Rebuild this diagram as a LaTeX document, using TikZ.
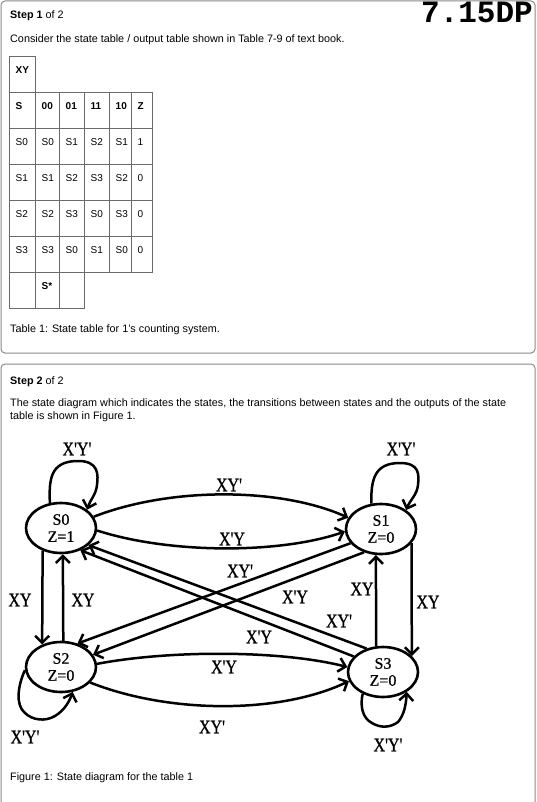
\documentclass[tikz,border=0pt]{standalone}
\usepackage{fontspec}
\usepackage{graphicx}
\setmainfont{Liberation Sans}
\newfontfamily\serif{Liberation Serif}[Ligatures=TeXOff,FakeBold=0.8]
\newfontfamily\monob{Liberation Mono}
\usetikzlibrary{shapes.geometric,arrows.meta,calc}
\definecolor{boxgray}{HTML}{8A8A8A}
\definecolor{cellgray}{HTML}{6A6A6A}
\newcommand\lb[1]{\scalebox{1}[1.2]{#1}}
\begin{document}
\begin{tikzpicture}[x=1pt,y=-1pt,
  txt/.style={anchor=base west,inner sep=0,font=\fontsize{10.8}{13}\selectfont},
  ctxt/.style={anchor=base west,inner sep=0,font=\fontsize{10}{12}\selectfont},
  state/.style={draw,ellipse,line width=2.6pt,minimum width=70pt,minimum height=50pt,inner sep=0,align=center,font=\serif\fontsize{16}{17}\selectfont},
  edge/.style={line width=2.5pt,-{Straight Barb[length=7pt,width=14pt]}},
  lbl/.style={inner sep=0,font=\serif\fontsize{16}{16}\selectfont},
  box/.style={draw=boxgray,line width=1pt,rounded corners=4pt},
  cell/.style={draw=cellgray,line width=0.8pt}
]
\useasboundingbox (0,0) rectangle (536,802);
\clip (0,0) rectangle (536,802);
\fill[white] (0,0) rectangle (536,802);

% boxes
\draw[box] (1,1) rectangle (535,353);
\draw[box] (1,364) rectangle (535,830);

% header texts
\node[txt] (st1) at (10,19) {\textbf{Step 1} of 2};
\node[anchor=base east,inner sep=0,text height=18pt,text depth=0pt,font=\monob\bfseries\fontsize{31}{31}\selectfont] (title) at (533,22.5) {7.15DP};
\node[txt] (cons) at (10,43) {Consider the state table / output table shown in Table 7-9 of text book.};

% table
\draw[cell] (9,56) rectangle (35,92);
\node[ctxt] (tXY) at (15.5,73.5) {\textbf{XY}};
\foreach \r in {0,...,4}{
  \foreach \xa/\xb in {9/35,35/59,59/84,84/109,109/131,131/152}{
    \draw[cell] (\xa,92+36*\r) rectangle (\xb,128+36*\r);
  }
}
\foreach \xa/\xb in {9/35,35/59,59/84}{
  \draw[cell] (\xa,272) rectangle (\xb,308);
}
\foreach [count=\c] \t/\x in {S/9,00/35,01/59,11/84,10/109,Z/131}{
  \node[ctxt] (th\c) at (\x+6.5,109.5) {\textbf{\t}};
}
\foreach [count=\r] \a/\b/\cc/\d/\e/\f in {S0/S0/S1/S2/S1/1,S1/S1/S2/S3/S2/0,S2/S2/S3/S0/S3/0,S3/S3/S0/S1/S0/0}{
  \node[ctxt] (r\r c1) at (15.5,109.5+36*\r) {\a};
  \node[ctxt] (r\r c2) at (41.5,109.5+36*\r) {\b};
  \node[ctxt] (r\r c3) at (65.5,109.5+36*\r) {\cc};
  \node[ctxt] (r\r c4) at (90.5,109.5+36*\r) {\d};
  \node[ctxt] (r\r c5) at (115.5,109.5+36*\r) {\e};
  \node[ctxt] (r\r c6) at (137.5,109.5+36*\r) {\f};
}
\node[ctxt] (sstar) at (41.5,289.5) {\textbf{S*}};
\node[txt] (tcap) at (10,332) {Table 1: State table for 1's counting system.};

% step 2 texts
\node[txt] (st2) at (10,384) {\textbf{Step 2} of 2};
\node[txt] (desc1) at (10,406) {The state diagram which indicates the states, the transitions between states and the outputs of the state};
\node[txt] (desc2) at (10,419) {table is shown in Figure 1.};
\node[txt] (fcap) at (10,780) {Figure 1: State diagram for the table 1};

% states
\node[state] (s0) at (61,528) {S0\\Z=1};
\node[state] (s1) at (381,529) {S1\\Z=0};
\node[state] (s2) at (61,667) {S2\\Z=0};
\node[state] (s3) at (383,672) {S3\\Z=0};

% self loops
\draw[edge] (s0.114) .. controls (49,480) and (50,462) .. (76,461) .. controls (100,460) and (98,476) .. (97,485) .. controls (96,495) and (90,500) .. (s0.35);
\draw[edge] (s1.111) .. controls (371,480) and (374,463) .. (400,463) .. controls (420,463) and (419,475) .. (418,485) .. controls (417,495) and (410,500) .. (s1.37);
\draw[edge] (s2.185) .. controls (18,685) and (15,705) .. (25,713) .. controls (32,720) and (45,722) .. (55,716) .. controls (65,710) and (70,700) .. (s2.-65);
\draw[edge] (s3.-133) .. controls (360,705) and (362,718) .. (372,723) .. controls (380,728) and (390,728) .. (398,722) .. controls (404,715) and (406,705) .. (s3.-40);

% vertical edges
\draw[edge] (s0.-129) -- (s2.130);
\draw[edge] (s2.85) -- (s0.-86);
\draw[edge] (s3.105) -- (s1.-101);
\draw[edge] (s1.-25) -- (s3.29);

% curved edges
\draw[edge] (s0.19) .. controls (170,487) and (280,487) .. (s1.161);
\draw[edge] (s0.-4) .. controls (170,554) and (280,554) .. (s1.-176);
\draw[edge] (s2.5) .. controls (170,650) and (280,650) .. (s3.172);
\draw[edge] (s2.-28) .. controls (170,714) and (280,714) .. (s3.-165);

% diagonals
\draw[edge] (s1.-155) -- (s2.55);
\draw[edge] (s1.-126) -- (s2.21);
\draw[edge] (s3.125) -- (s0.-32);
\draw[edge] (s3.152) -- (s0.-49);

% labels
\node[lbl] (l0) at (77,449) {\lb{X'Y'}};
\node[lbl] (l1) at (401,449) {\lb{X'Y'}};
\node[lbl] (l2) at (25,737) {\lb{X'Y'}};
\node[lbl] (l3) at (388,745) {\lb{X'Y'}};
\node[lbl] (l4) at (229,485) {\lb{XY'}};
\node[lbl] (l5) at (232,539) {\lb{X'Y}};
\node[lbl] (l6) at (240,571) {\lb{XY'}};
\node[lbl] (l7) at (295,597) {\lb{X'Y}};
\node[lbl] (l8) at (339,621) {\lb{XY'}};
\node[lbl] (l9) at (259,637) {\lb{X'Y}};
\node[lbl] (l10) at (224,667) {\lb{X'Y}};
\node[lbl] (l11) at (212,727) {\lb{XY'}};
\node[lbl] (l12) at (20,600) {\lb{XY}};
\node[lbl] (l13) at (83,600) {\lb{XY}};
\node[lbl] (l14) at (362,589) {\lb{XY}};
\node[lbl] (l15) at (428,602) {\lb{XY}};
\end{tikzpicture}
\end{document}
